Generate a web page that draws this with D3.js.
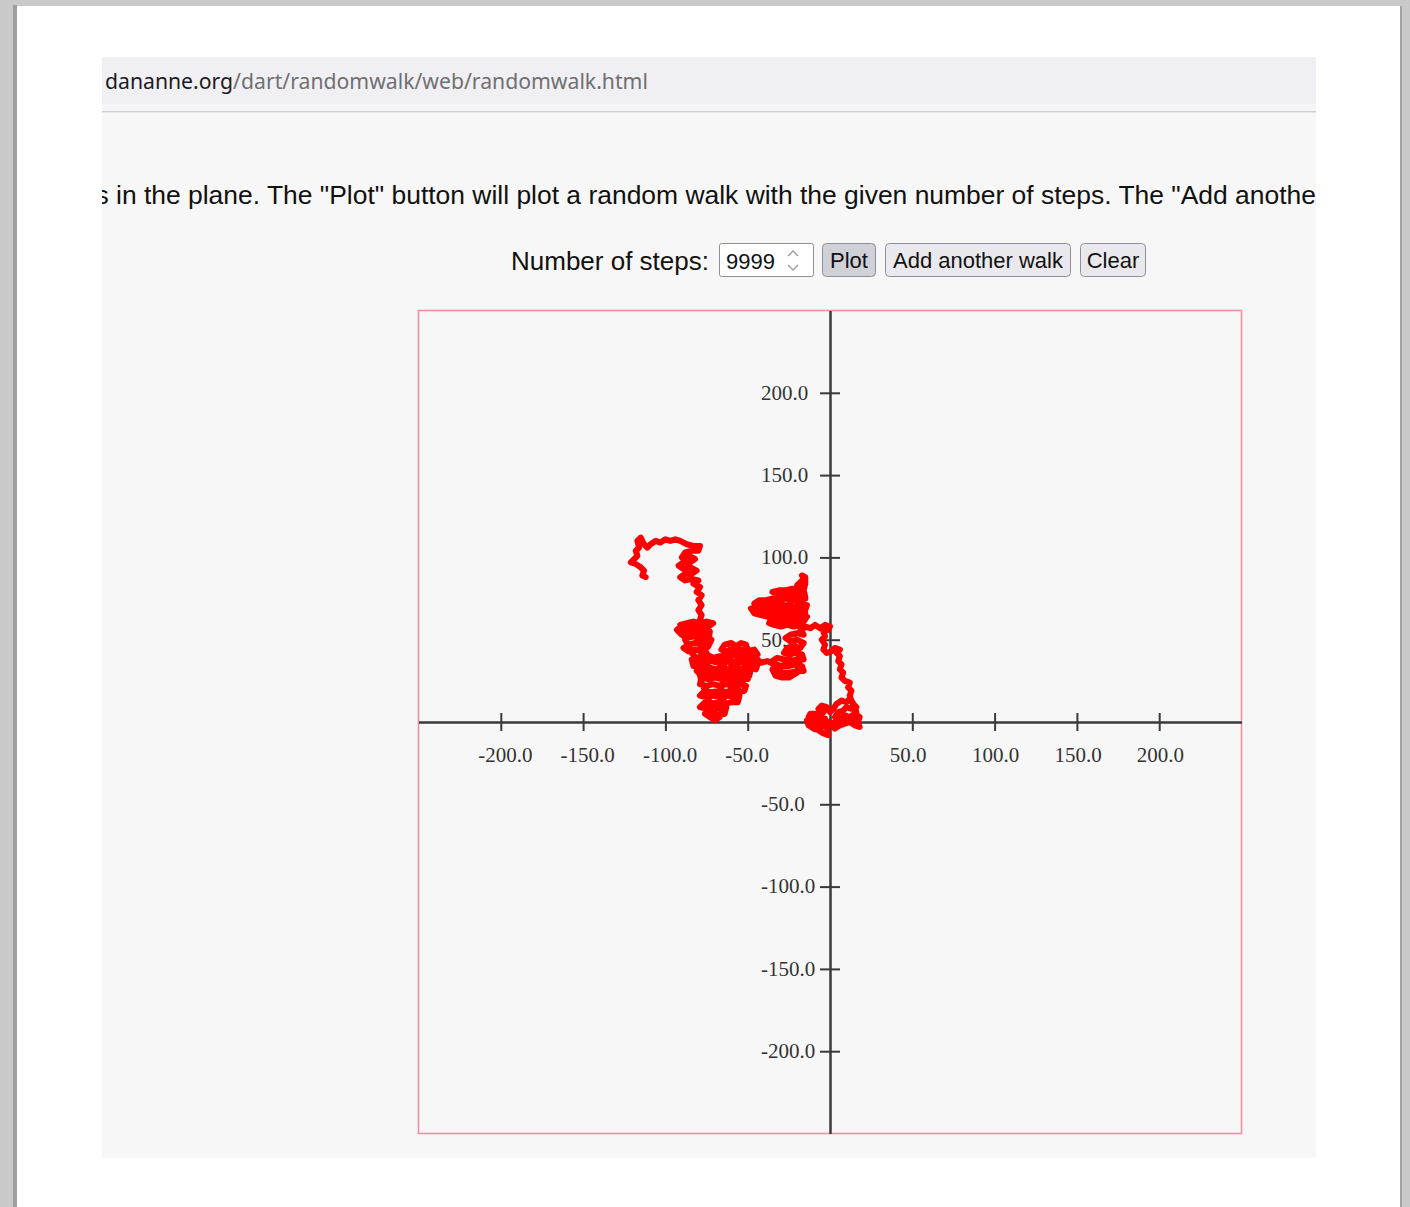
<!DOCTYPE html>
<html>
<head>
<meta charset="utf-8">
<script src="https://cdn.jsdelivr.net/npm/d3@7"></script>
<style>
  body { margin: 0; background: #fff; }
  svg { display: block; }
</style>
</head>
<body>
<script>
const W = 1410, H = 1207;

// axis ticks (both axes use the same values)
const tickValues = [-200, -150, -100, -50, 50, 100, 150, 200];
const domainMin = -250, domainMax = 250;

const urlHost = "dananne.org";
const urlPath = "/dart/randomwalk/web/randomwalk.html";
const introText = 'This page draws random walks in the plane. The "Plot" button will plot a random walk with the given number of steps. The "Add another walk" button adds a walk to the same picture.';
const stepsLabel = "Number of steps:";
const stepsValue = "9999";
const buttonLabels = ["Plot", "Add another walk", "Clear"];

// walk, in plot units (starts at the origin)
const walkX = [
  // blob round the origin, then the trail up the right of the y axis
  0,-2,-1,-4,-7,-10,-13,-14,-11,-8,-5,-2,-3,-6,-9,-13,-12,-9,-6,-4,-7,-5,-2,0,2,4,7,10,12,14,
  16,13,10,8,5,3,6,9,12,15,18,17,18,15,12,9,6,3,1,3,7,11,14,16,15,13,12,13,11,12,
  9,7,8,6,7,5,6,4,6,3,1,-2,-4,-3,-5,-3,-4,-1,0,-3,-6,-9,-12,-15,-17,
  // middle blob (under the 50.0 label)
  -19,-22,-26,-30,-34,-37,-36,-32,-28,-24,-20,-16,-14,-18,-22,-26,-30,-34,-38,-42,
  -46,-48,-44,-40,-36,-32,-28,-24,-20,-15,-14,-18,-22,-26,-30,-34,-38,-42,-46,-43,
  -39,-35,-31,-27,-23,-19,-15,-16,-20,-24,-28,-32,-35,-31,-27,-23,-19,-16,-20,-18,
  -16,-17,-15,-15,-16,-15,
  -19,-21,-25,-24,-29,-30,-35,-35,-40,-41,-45,-44,-38,-30,-22,-18,
  -16,-15,-17,-18,-16,-20,-24,-27,-24,-20,-16,-18,-22,-26,
  -28,-25,-21,-17,-16,-20,-24,-28,-32,-35,-33,-29,-25,-21,-17,-16,-20,-24,-28,-32,
  -35,-33,-29,-25,
  -20,-18,-23,-26,-31,-33,
  -30,-34,-38,-42,-44,-46,
  // lower blob near x = -60
  -48,-50,-51,-54,-57,-60,-64,-66,-63,-60,-57,-54,-50,-46,-44,-47,-51,-55,-59,-63,
  -67,-71,-75,-79,-80,-76,-72,-68,-64,-60,-56,-52,-48,-44,-45,-49,-53,-57,-61,-65,
  -69,-73,-77,-80,-77,-73,-69,-65,-61,-57,-53,-49,-50,-54,-58,-62,-66,-70,-74,-78,
  -79,-75,-71,-67,-63,-59,-55,-51,-52,-56,-60,-64,-68,-72,-76,-79,-75,-71,-67,-63,
  -59,-55,-56,-60,-64,-68,-72,-76,-79,-75,-71,-67,-63,-64,-68,-72,-76,-73,-70,-67,
  -65,-66,-64,-65,-61,-60,-61,-59,-56,-57,-55,-51,-52,-53,-49,-47,
  -70,-74,-78,-80,-78,-74,-72,
  // left blob
  -75,-79,-83,-87,-90,-93,-90,-86,-82,-78,-74,-71,-75,-79,-83,-87,-91,-89,-85,-81,
  -77,-73,-74,-78,-82,-86,-89,-86,-82,-78,-75,-76,-80,-84,-83,-79,-76,-78,-81,-79,
  -84,-88,-84,-80,-76,
  -77,-78,-79,
  // column up, arc across the top, end on the far left
  -78,-80,-78,-80,-78,-81,-79,-83,-80,-84,-88,-91,-88,-84,-81,-85,-89,-92,-89,-85,
  -82,-86,-90,-88,-84,-80,-79,-83,-87,-91,-94,-97,-100,-103,-106,-109,-111,-113,-115,-117,
  -116,-118,-117,-119,-121,-118,-115,-113,-114,-112
];
const walkY = [
  0,-3,-8,-7,-5,-4,-2,1,0,-2,-3,-1,2,1,2,3,5,5,4,6,8,10,9,6,8,11,13,12,14,11,
  9,8,9,7,6,3,2,4,3,5,3,0,-3,-2,0,-1,-2,-4,-2,0,1,1,2,6,10,13,16,19,21,24,
  25,27,30,32,35,37,40,42,44,45,43,42,44,47,50,52,55,56,58,59,57,59,57,58,56,
  59,58,59,58,59,60,62,61,62,61,62,61,64,65,64,65,64,65,64,65,
  66,69,68,68,67,68,67,68,67,68,71,71,70,71,70,71,72,71,72,74,
  74,75,74,75,74,74,75,78,77,78,77,78,79,80,80,81,80,82,83,85,
  87,89,88,84,80,76,
  72,62,60,76,79,63,61,75,72,66,68,72,70,72,66,70,
  72,66,61,57,53,54,53,51,49,50,48,45,46,45,
  42,41,42,41,38,38,37,38,39,37,35,34,34,35,34,31,31,30,30,31,
  32,28,27,27,
  30,40,44,36,33,29,
  33,35,37,36,38,36,
  40,44,47,48,46,48,47,44,43,44,42,44,43,44,41,39,40,39,41,39,
  40,39,41,40,37,36,37,36,37,36,37,36,37,35,32,33,32,33,32,33,
  32,33,32,30,29,30,29,30,29,30,29,30,26,27,26,27,26,27,26,27,
  23,22,23,22,23,22,23,22,19,18,19,18,19,18,19,16,15,16,15,16,
  15,16,12,12,11,12,11,12,9,8,9,8,9,5,4,6,5,3,1,3,
  10,20,30,40,44,34,24,14,20,30,40,43,33,25,28,38,
  7,14,24,33,42,46,50,
  52,51,52,51,53,56,58,57,58,57,58,60,61,60,61,60,59,55,54,55,
  54,55,48,47,48,47,45,43,44,43,42,38,39,38,34,35,33,30,31,36,
  42,50,56,50,40,
  45,56,62,
  65,68,71,74,77,79,82,84,86,87,86,88,90,90,92,94,93,95,97,97,
  99,101,100,103,104,104,107,107,108,110,111,110,111,109,110,108,106,108,112,110,
  106,104,101,99,97,96,94,92,89,88
];

const uiFont = "'Liberation Sans', Arial, sans-serif";
const plotBox = { left: 418.5, top: 310.5, size: 823 };

const svg = d3.select("body").append("svg")
    .attr("width", W)
    .attr("height", H);

// window frame + page
svg.append("rect").attr("width", W).attr("height", H).attr("fill", "#c8c9c8");
svg.append("rect").attr("x", 13).attr("y", 5).attr("width", 4).attr("height", H).attr("fill", "#9d9e9d");
svg.append("rect").attr("x", 17).attr("y", 6).attr("width", 1383).attr("height", H).attr("fill", "#ffffff");
svg.append("rect").attr("x", 1400).attr("y", 6).attr("width", 2).attr("height", H).attr("fill", "#a3a4a3");

// address bar
svg.append("rect").attr("x", 102).attr("y", 57).attr("width", 1214).attr("height", 47).attr("fill", "#f0eff4");
svg.append("rect").attr("x", 102).attr("y", 104).attr("width", 1214).attr("height", 7).attr("fill", "#f5f5f8");
svg.append("rect").attr("x", 102).attr("y", 111).attr("width", 1214).attr("height", 1.5).attr("fill", "#cfcfd3");
const url = svg.append("text")
    .attr("x", 105).attr("y", 89)
    .style("font-family", "'Noto Sans', 'Open Sans', sans-serif")
    .style("font-size", "21.2px");
url.append("tspan").attr("fill", "#1c1c1c").text(urlHost);
url.append("tspan").attr("fill", "#707070").text(urlPath);

// page content
svg.append("rect").attr("x", 102).attr("y", 113).attr("width", 1214).attr("height", 1045).attr("fill", "#f7f7f7");

svg.append("clipPath").attr("id", "pageclip")
    .append("rect").attr("x", 102).attr("y", 113).attr("width", 1214).attr("height", 1045);

// intro sentence runs off both sides of the page in the screenshot
const intro = svg.append("g").attr("clip-path", "url(#pageclip)")
    .append("text")
    .attr("x", 0).attr("y", 204)
    .attr("fill", "#111")
    .style("font-family", uiFont)
    .style("font-size", "26.45px")
    .text(introText);
const introIdx = introText.indexOf("in the plane");
const introPos = intro.node().getStartPositionOfChar(introIdx).x;
intro.attr("x", 116 - introPos);

// controls row
svg.append("text")
    .attr("x", 511).attr("y", 270)
    .attr("fill", "#111")
    .style("font-family", uiFont)
    .style("font-size", "26px")
    .text(stepsLabel);

svg.append("rect")
    .attr("x", 719.5).attr("y", 243.5).attr("width", 94).attr("height", 33)
    .attr("rx", 2).attr("fill", "#fff").attr("stroke", "#8f8f9d");
svg.append("text")
    .attr("x", 726).attr("y", 269)
    .attr("fill", "#111")
    .style("font-family", uiFont)
    .style("font-size", "22px")
    .text(stepsValue);
// spinner arrows
svg.append("path")
    .attr("d", "M788,256 L793,251 L798,256 M788,265 L793,270 L798,265")
    .attr("fill", "none").attr("stroke", "#9a9aa6").attr("stroke-width", 1.3);

const buttons = [
  { x: 822.5, w: 53, fill: "#d0d0d7" },
  { x: 885.5, w: 185, fill: "#e9e9ed" },
  { x: 1080.5, w: 65, fill: "#e9e9ed" }
];
buttons.forEach(function(b, i) {
    svg.append("rect")
        .attr("x", b.x).attr("y", 243.5).attr("width", b.w).attr("height", 33)
        .attr("rx", 4).attr("fill", b.fill).attr("stroke", "#8f8f9d");
    svg.append("text")
        .attr("x", b.x + b.w / 2).attr("y", 268)
        .attr("text-anchor", "middle")
        .attr("fill", "#111")
        .style("font-family", uiFont)
        .style("font-size", "22px")
        .text(buttonLabels[i]);
});

/* PLOT */
const x_scale = d3.scaleLinear()
    .domain([domainMin, domainMax])
    .range([plotBox.left, plotBox.left + plotBox.size]);

const y_scale = d3.scaleLinear()
    .domain([domainMin, domainMax])
    .range([plotBox.top + plotBox.size, plotBox.top]);

svg.append("rect")
    .attr("x", plotBox.left).attr("y", plotBox.top)
    .attr("width", plotBox.size).attr("height", plotBox.size)
    .attr("fill", "#f7f7f7")
    .attr("stroke", "#ea93a6").attr("stroke-width", 1.6);

const fmt = function(d) { return d.toFixed(1); };

// x axis through y = 0
const xAxis = svg.append("g")
    .attr("transform", "translate(0," + y_scale(0) + ")")
    .call(d3.axisBottom(x_scale).tickValues(tickValues).tickSizeOuter(0).tickFormat(fmt));

xAxis.selectAll(".tick line").attr("y1", -9).attr("y2", 9);
xAxis.selectAll(".tick text")
    .attr("text-anchor", "start")
    .attr("x", -23).attr("y", 40).attr("dy", null);

// y axis through x = 0
const yAxis = svg.append("g")
    .attr("transform", "translate(" + x_scale(0) + ",0)")
    .call(d3.axisLeft(y_scale).tickValues(tickValues).tickSizeOuter(0).tickFormat(fmt));

yAxis.selectAll(".tick line").attr("x1", -10).attr("x2", 10);
yAxis.selectAll(".tick text")
    .attr("text-anchor", "start")
    .attr("x", -69).attr("y", 0).attr("dy", "0.3em");

[xAxis, yAxis].forEach(function(ax) {
    ax.select(".domain").attr("stroke", "#3a3a3a").attr("stroke-width", 2.5);
    ax.selectAll(".tick line").attr("stroke", "#3a3a3a").attr("stroke-width", 2);
    ax.selectAll(".tick text")
        .attr("fill", "#333")
        .style("font-family", "'Liberation Serif', 'Times New Roman', serif")
        .style("font-size", "21px");
});

// the walk, drawn over the labels
if (walkX.length !== walkY.length) console.log("walk arrays differ", walkX.length, walkY.length);
const walk = walkX.map(function(d, i) { return [d, walkY[i]]; });
const line = d3.line()
    .x(function(d) { return x_scale(d[0]); })
    .y(function(d) { return y_scale(d[1]); });

svg.append("path")
    .datum(walk)
    .attr("d", line)
    .attr("fill", "none")
    .attr("stroke", "#ff0000")
    .attr("stroke-width", 6)
    .attr("stroke-linejoin", "round")
    .attr("stroke-linecap", "round");
</script>
</body>
</html>
